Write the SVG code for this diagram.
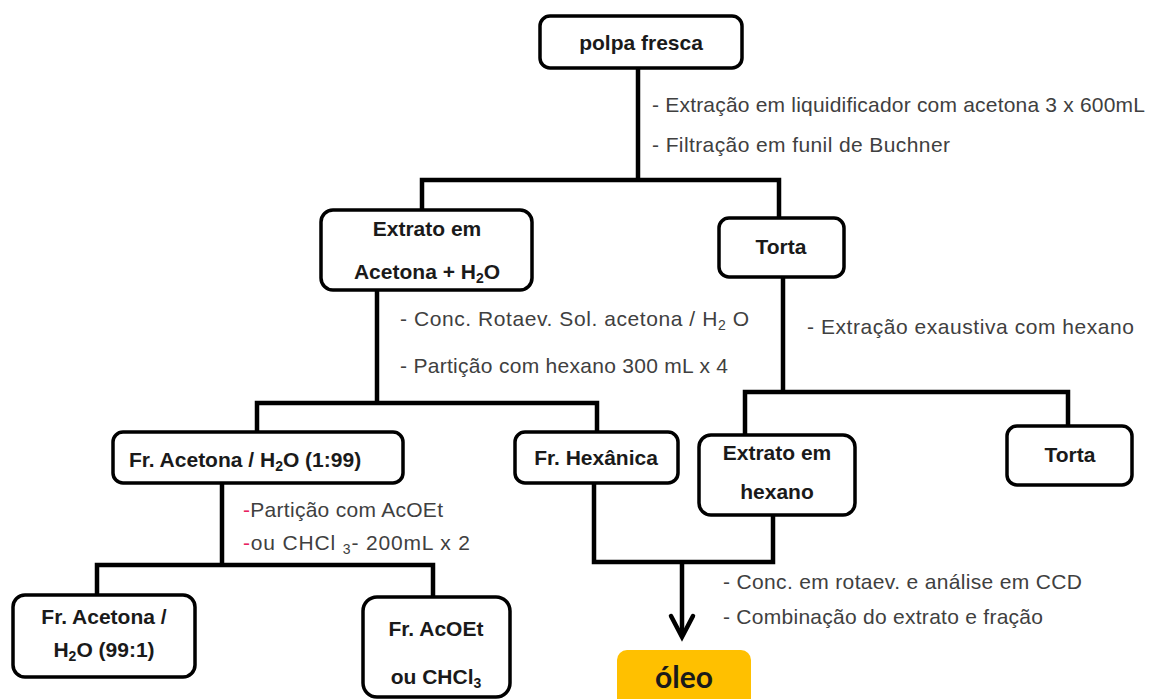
<svg xmlns="http://www.w3.org/2000/svg" width="1149" height="699" viewBox="0 0 1149 699">
<style>
.box{fill:#fff;stroke:#000;stroke-width:3.5}
.lbl{font-family:"Liberation Sans",Arial,sans-serif;font-weight:bold;font-size:21px;fill:#1a1a1a;text-anchor:middle}
.ann{font-family:"Liberation Sans",Arial,sans-serif;font-size:21px;fill:#404040}
.red{fill:#e8235f}
.con{fill:none;stroke:#000;stroke-width:4.5;stroke-linejoin:miter}
.sub{font-size:14px}
</style>
<rect width="1149" height="699" fill="#fff"/>
<g id="connectors">
<path class="con" d="M638 68 V180"/>
<path class="con" d="M422 210 V180 H779 V218"/>
<path class="con" d="M377 290 V403"/>
<path class="con" d="M257 432 V403 H597 V432"/>
<path class="con" d="M783 277 V392"/>
<path class="con" d="M745 435 V392 H1068 V426"/>
<path class="con" d="M222 483 V565"/>
<path class="con" d="M97 595 V565 H433 V597"/>
<path class="con" d="M594 483 V562 H773 V515"/>
<path class="con" d="M682 562 V636"/>
<path class="con" d="M671 616 L682 637 L693 616" stroke-linecap="round"/>
</g>
<g id="annotations">
<text class="ann" x="652" y="112" textLength="493" lengthAdjust="spacing">- Extração em liquidificador com acetona 3 x 600mL</text>
<text class="ann" x="652" y="152" textLength="298" lengthAdjust="spacing">- Filtração em funil de Buchner</text>
<text class="ann" x="400" y="326" textLength="349" lengthAdjust="spacing">- Conc. Rotaev. Sol. acetona /  H<tspan class="sub" dy="4">2</tspan><tspan dy="-4"> O</tspan></text>
<text class="ann" x="400" y="373" textLength="328" lengthAdjust="spacing">- Partição com hexano 300 mL x 4</text>
<text class="ann" x="807" y="334" textLength="327" lengthAdjust="spacing">- Extração exaustiva com  hexano</text>
<text class="ann" x="243" y="517" textLength="200" lengthAdjust="spacing"><tspan class="red">-</tspan>Partição com AcOEt</text>
<text class="ann" x="243" y="550" textLength="227" lengthAdjust="spacing"><tspan class="red">-</tspan>ou  CHCl <tspan class="sub" dy="4">3</tspan><tspan dy="-4">- 200mL x 2</tspan></text>
<text class="ann" x="723" y="589" textLength="359" lengthAdjust="spacing">- Conc. em rotaev. e análise em CCD</text>
<text class="ann" x="723" y="624" textLength="320" lengthAdjust="spacing">- Combinação do extrato e fração</text>
</g>
<g id="polpa">
<rect class="box" x="540" y="16" width="202" height="52" rx="10"/>
<text class="lbl" x="641" y="50">polpa fresca</text>
</g>
<g id="extrato-acetona">
<rect class="box" x="321" y="210" width="211" height="80" rx="12"/>
<text class="lbl" x="427" y="236">Extrato em</text>
<text class="lbl" x="427" y="279">Acetona + H<tspan class="sub" dy="4">2</tspan><tspan dy="-4">O</tspan></text>
</g>
<g id="torta1">
<rect class="box" x="719" y="218" width="125" height="59" rx="10"/>
<text class="lbl" x="781" y="254">Torta</text>
</g>
<g id="fr-acetona-199">
<rect class="box" x="113" y="432" width="290" height="51" rx="10"/>
<text class="lbl" x="245" y="467">Fr. Acetona / H<tspan class="sub" dy="4">2</tspan><tspan dy="-4">O (1:99)</tspan></text>
</g>
<g id="fr-hexanica">
<rect class="box" x="515" y="432" width="163" height="51" rx="10"/>
<text class="lbl" x="596" y="465">Fr. Hexânica</text>
</g>
<g id="extrato-hexano">
<rect class="box" x="699" y="435" width="156" height="80" rx="12"/>
<text class="lbl" x="777" y="460">Extrato em</text>
<text class="lbl" x="777" y="499">hexano</text>
</g>
<g id="torta2">
<rect class="box" x="1007" y="426" width="125" height="59" rx="10"/>
<text class="lbl" x="1070" y="462">Torta</text>
</g>
<g id="fr-acetona-991">
<rect class="box" x="13" y="595" width="182" height="82" rx="12"/>
<text class="lbl" x="104" y="624">Fr. Acetona /</text>
<text class="lbl" x="104" y="657">H<tspan class="sub" dy="4">2</tspan><tspan dy="-4">O (99:1)</tspan></text>
</g>
<g id="fr-acoet">
<rect class="box" x="363" y="597" width="147" height="100" rx="14"/>
<text class="lbl" x="436" y="636">Fr. AcOEt</text>
<text class="lbl" x="436" y="684">ou CHCl<tspan class="sub" dy="4">3</tspan></text>
</g>
<g id="oleo">
<rect x="617" y="650" width="134" height="70" rx="10" fill="#FFC000"/>
<text x="684" y="688" text-anchor="middle" font-family="Lato, 'Open Sans', sans-serif" font-weight="bold" font-size="30" fill="#1a1a1a">óleo</text>
</g>
</svg>
